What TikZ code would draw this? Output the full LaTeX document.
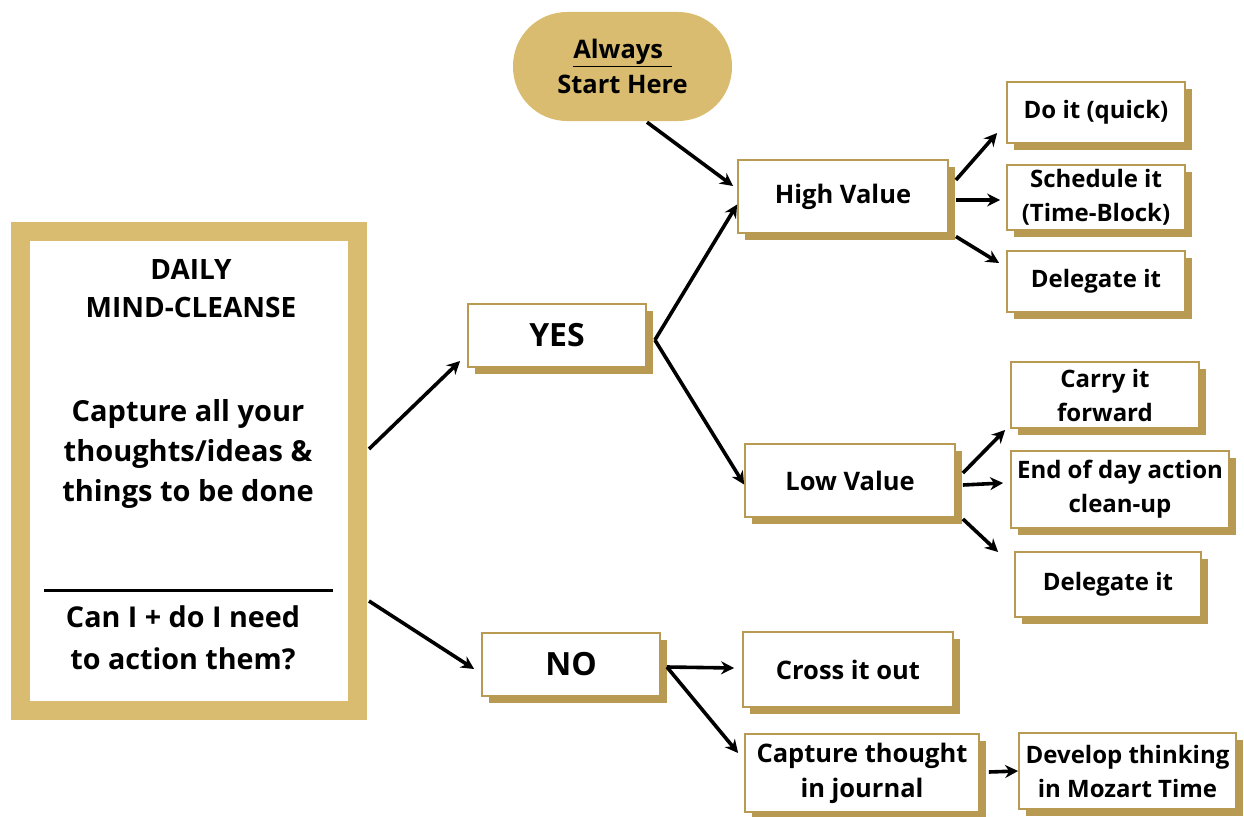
\documentclass[tikz,border=0pt]{standalone}
\usepackage{fontspec}
\setmainfont{Open Sans}
\usetikzlibrary{arrows.meta}
\usetikzlibrary{shadows}
\definecolor{lightgold}{RGB}{217,188,112}
\definecolor{darkgold}{RGB}{185,154,82}

\begin{document}
\begin{tikzpicture}[x=1pt, y=-1pt, >={Stealth[length=13pt,width=13pt]},
    box/.style={draw=darkgold, line width=1.8pt, fill=white, align=center, inner sep=0pt,
        font=\bfseries\fontsize{24}{34}\selectfont,
        drop shadow={shadow xshift=7pt, shadow yshift=-7pt, fill=darkgold, opacity=1}},
    valuebox/.style={box, font=\bfseries\fontsize{25.5}{35}\selectfont},
    bigbox/.style={box, font=\bfseries\fontsize{32}{34}\selectfont},
    link/.style={->, line width=3.6pt}]
        \useasboundingbox (0,0) rectangle (1244,816);

        % Draw the mind-cleanse frame
        \node[draw=lightgold, line width=19pt, fill=white, minimum width=337, minimum height=479] (frame) at (188.5,470.5) {};
        \node[align=center, font=\bfseries\fontsize{28}{38}\selectfont] (title) at (191,289) {DAILY\\MIND-CLEANSE};
        \node[align=center, font=\bfseries\fontsize{29}{40}\selectfont] (capture) at (188,454) {Capture all your\\thoughts/ideas \&\\things to be done};
        \draw[line width=3pt] (44,590) -- (333,590);
        \node[align=center, font=\bfseries\fontsize{28.7}{42}\selectfont] (question) at (183,638) {Can I + do I need\\to action them?};

        % Draw the start oval
        \node[fill=lightgold, rounded corners=54pt, minimum width=219, minimum height=109, align=center,
            font=\bfseries\fontsize{25.5}{35}\selectfont] (start) at (622.5,66.5) {\underline{Always\,\,}\\Start Here};

        % Draw the yes / no boxes
        \node[bigbox, minimum width=178, minimum height=63] (yes) at (557,335.5) {YES};
        \node[bigbox, minimum width=178, minimum height=63] (no) at (571,664.5) {NO};

        % Draw the value boxes
        \node[valuebox, minimum width=210, minimum height=73] (high) at (843,196.5) {High Value};
        \node[valuebox, minimum width=210, minimum height=73] (low) at (850,480.5) {Low Value};

        % Draw the actions
        \node[box, minimum width=178, minimum height=61] (doit) at (1096,112.5) {Do it (quick)};
        \node[box, minimum width=178, minimum height=65] (schedule) at (1096,197.5) {Schedule it\\(Time-Block)};
        \node[box, minimum width=178, minimum height=61] (delegatehigh) at (1096,281.5) {Delegate it};
        \node[box, minimum width=188, minimum height=66] (carry) at (1105,395) {Carry it\\forward};
        \node[box, minimum width=218, minimum height=77] (endday) at (1120,489.5) {End of day action\\clean-up};
        \node[box, minimum width=186, minimum height=65] (delegatelow) at (1108,584.5) {Delegate it};
        \node[valuebox, minimum width=210, minimum height=75] (cross) at (848,669.5) {Cross it out};
        \node[valuebox, minimum width=234, minimum height=78] (journal) at (862,773) {Capture thought\\in journal};
        \node[box, minimum width=217, minimum height=76] (mozart) at (1127.5,771) {Develop thinking\\in Mozart Time};

        % Draw the arrows
        \draw[link] ([shift={(2.5,-21.5)}]frame.east) -- ([shift={(-7,25.5)}]yes.west);
        \draw[link] ([shift={(2.5,130.5)}]frame.east) -- ([shift={(-7,4.5)}]no.west);
        \draw[link] ([shift={(24.5,1)}]start.south) -- ([shift={(-4,-10.5)}]high.west);
        \draw[link] ([shift={(8,4.5)}]yes.east) -- ([shift={(0,8)}]high.west);
        \draw[link] ([shift={(8,4.5)}]yes.east) -- ([shift={(0,4)}]low.west);
        \draw[link] ([shift={(6,2.5)}]no.east) -- ([shift={(-8,-1.5)}]cross.west);
        \draw[link] ([shift={(6,2.5)}]no.east) -- ([shift={(-6,-20)}]journal.west);
        \draw[link] ([shift={(7,-16.5)}]high.east) -- ([shift={(-9,20.5)}]doit.west);
        \draw[link] ([shift={(7,3.5)}]high.east) -- ([shift={(-6,2.5)}]schedule.west);
        \draw[link] ([shift={(7,40)}]high.east) -- ([shift={(-7,-18.5)}]delegatehigh.west);
        \draw[link] ([shift={(7,-7.5)}]low.east) -- ([shift={(-5,35)}]carry.west);
        \draw[link] ([shift={(7,4.5)}]low.east) -- ([shift={(-7,-6.5)}]endday.west);
        \draw[link] ([shift={(7,38.5)}]low.east) -- ([shift={(-16,-32.5)}]delegatelow.west);
        \draw[link] ([shift={(9,-1)}]journal.east) -- (mozart.west);
\end{tikzpicture}
\end{document}
